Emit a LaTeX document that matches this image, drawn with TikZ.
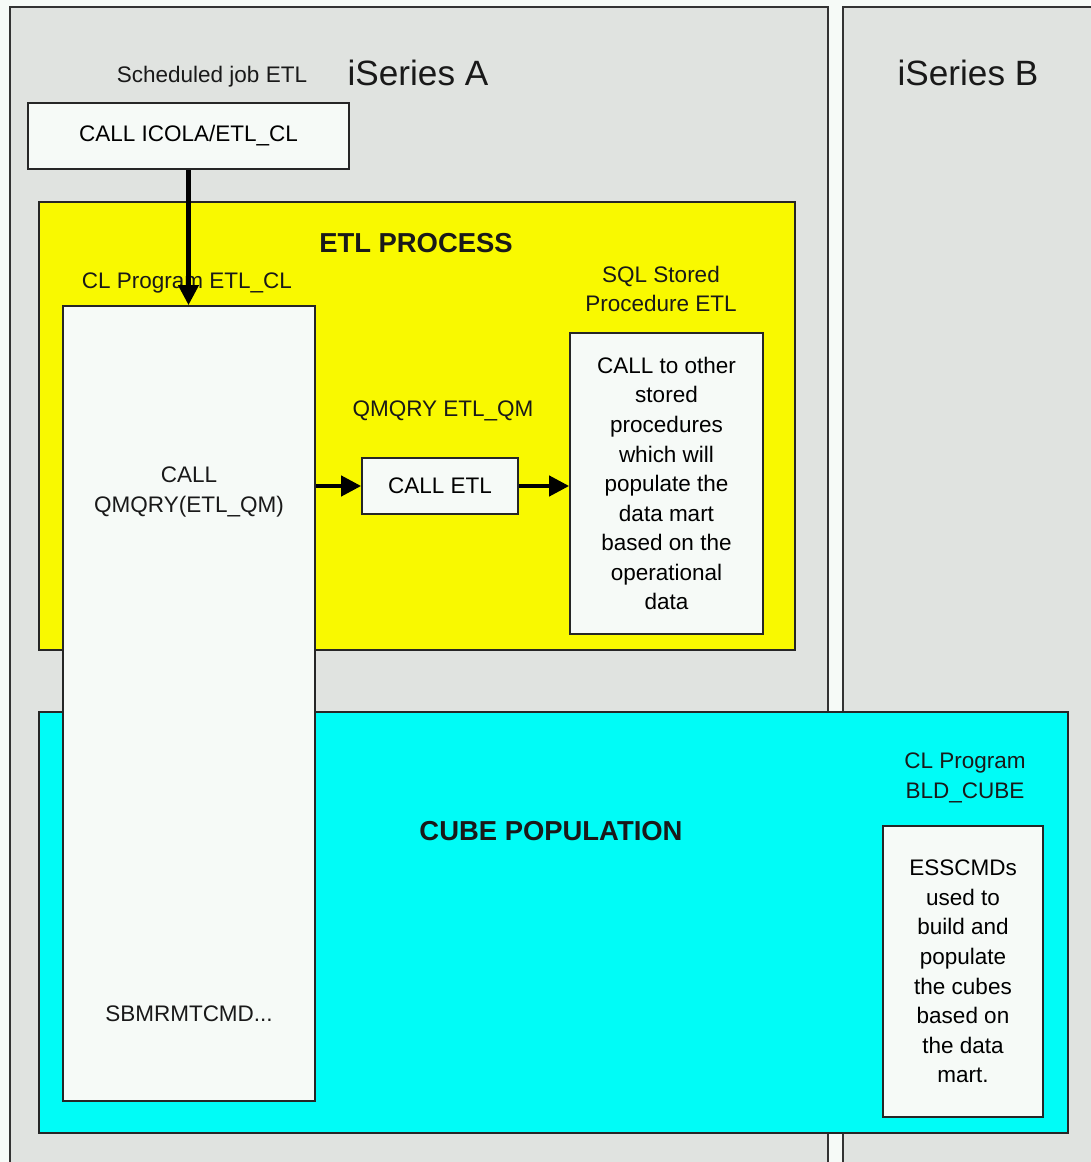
\documentclass[tikz,border=0pt]{standalone}
\usepackage{fontspec}
\setmainfont{Liberation Sans}
\usetikzlibrary{positioning,arrows.meta,calc}
\definecolor{paper}{RGB}{246,250,247}
\definecolor{panelgray}{RGB}{224,227,224}
\definecolor{etlyellow}{RGB}{249,249,0}
\definecolor{cubecyan}{RGB}{0,252,247}

\begin{document}
\begin{tikzpicture}[
  x=0.025cm, y=-0.025cm,
  font=\fontsize{16}{21}\selectfont,
  panel/.style={draw=black!80, line width=1.2pt, fill=panelgray},
  area/.style={draw=black!85, line width=1.2pt, inner sep=0pt},
  cmdbox/.style={draw=black!85, line width=1.2pt, fill=paper, inner sep=0pt, align=center},
  lbl/.style={align=center, text=black!90, inner sep=1pt},
  head/.style={lbl, font=\fontsize{19.5}{23}\selectfont\bfseries},
  sysname/.style={lbl, font=\fontsize{25}{28}\selectfont},
  call/.style={-{Triangle[length=5mm,width=5mm]}, line width=3pt}
]
\useasboundingbox[fill=paper] (0,0) rectangle (1090,1162);
% ---- the two machines ----
\draw[panel] (10,1170) -- (10,7) -- (828,7) -- (828,1170);
\draw[panel] (843,1170) -- (843,7) -- (1100,7) -- (1100,1170);
\node[sysname] (sysA) at (418,73) {iSeries A};
\node[sysname] (sysB) at (968,73) {iSeries B};
% ---- scheduled job ----
\node[lbl] (joblbl) at (212,77) {Scheduled job ETL};
\node[cmdbox, minimum width=8.025cm, minimum height=1.65cm] (job) at (188.5,136) {CALL ICOLA/ETL\_CL};
% ---- process areas ----
\node[area, fill=etlyellow, minimum width=18.9cm, minimum height=11.2cm] (etl) at (417,426) {};
\node[head] (etlhead) at (416,243) {ETL PROCESS};
\node[area, fill=cubecyan, minimum width=25.725cm, minimum height=10.525cm] (cube) at (553.5,922.5) {};
\node[head] (cubehead) at (551,831) {CUBE POPULATION};
% ---- CL program ETL_CL ----
\node[lbl] (cllbl) at (187,283) {CL Program ETL\_CL};
\node[cmdbox, minimum width=6.3cm, minimum height=19.875cm] (clprog) at (189,703.5) {};
\node[lbl] (qmcall) at (189,492) {CALL\\QMQRY(ETL\_QM)};
\node[lbl] (rmtcmd) at (189,1014) {SBMRMTCMD...};
% ---- query and stored procedure ----
\node[lbl] (qmlbl) at (443,411) {QMQRY ETL\_QM};
\node[cmdbox, minimum width=3.9cm, minimum height=1.4cm] (calletl) at (440,486) {CALL ETL};
\node[lbl] (sqllbl) at (661,289) {SQL Stored\\Procedure ETL};
\node[cmdbox, minimum width=4.825cm, minimum height=7.525cm] (sqlproc) at (666.5,483.5)
  {CALL to other\\stored\\procedures\\which will\\populate the\\data mart\\based on the\\operational\\data};
% ---- CL program BLD_CUBE ----
\node[lbl] (bldlbl) at (965,778) {CL Program\\BLD\_CUBE};
\node[cmdbox, minimum width=4cm, minimum height=7.275cm] (ess) at (963,971.5)
  {ESSCMDs\\used to\\build and\\populate\\the cubes\\based on\\the data\\mart.};
% ---- calls ----
\draw[call] (job.south) -- (job.south |- clprog.north);
\draw[call] (clprog.east |- calletl) -- (calletl.west);
\draw[call] (calletl.east) -- (sqlproc.west |- calletl);
\end{tikzpicture}
\end{document}
